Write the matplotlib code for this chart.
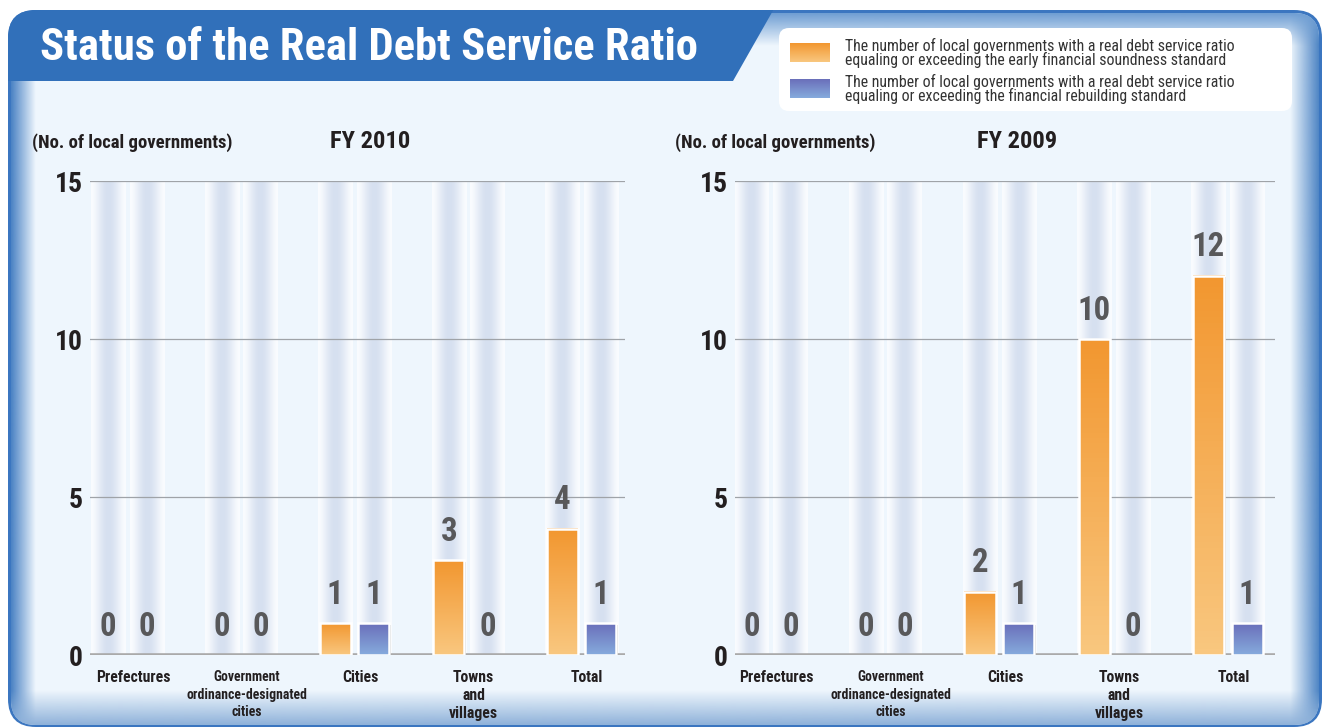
import numpy as np
import matplotlib
matplotlib.use('Agg')
import matplotlib.pyplot as plt
from matplotlib.patches import FancyBboxPatch, Polygon
import matplotlib.patheffects as pe
from matplotlib.colors import to_rgb
from matplotlib import font_manager as fm

# ---------------- data ----------------
title = "Status of the Real Debt Service Ratio"
categories = ["Prefectures", "Government\nordinance-designated\ncities", "Cities",
              "Towns\nand\nvillages", "Total"]
fy2010_early = [0, 0, 1, 3, 4]
fy2010_rebuild = [0, 0, 1, 0, 1]
fy2009_early = [0, 0, 2, 10, 12]
fy2009_rebuild = [0, 0, 1, 0, 1]
panel_titles = ["FY 2010", "FY 2009"]
y_label = "(No. of local governments)"
y_ticks = [0, 5, 10, 15]
legend_lines = [
    ["The number of local governments with a real debt service ratio",
     "equaling or exceeding the early financial soundness standard"],
    ["The number of local governments with a real debt service ratio",
     "equaling or exceeding the financial rebuilding standard"],
]

# ---------------- font choice ----------------
weights = {}
for f in fm.fontManager.ttflist:
    w = f.weight
    try:
        w = int(w)
    except (TypeError, ValueError):
        w = 700 if 'bold' in str(w).lower() else 400
    weights.setdefault(f.name, set()).add(w)
prefs = ['Roboto Condensed', 'Liberation Sans Narrow', 'Archivo Narrow', 'PT Sans Narrow',
         'Pragati Narrow', 'Fira Sans Condensed', 'IBM Plex Sans Condensed',
         'Encode Sans Condensed', 'Asap Condensed', 'Barlow Semi Condensed', 'Roboto']
FAM = 'DejaVu Sans'
for p in prefs:
    if p in weights and max(weights[p]) >= 700 and min(weights[p]) <= 400:
        FAM = p
        break
plt.rcParams['font.family'] = [FAM, 'DejaVu Sans']

DARK = '#231f20'
ORANGE_TOP, ORANGE_BOT = '#f29730', '#f9c77f'
BLUE_TOP, BLUE_BOT = '#6a6fba', '#86abdd'
PALE = '#eef6fd'
FRAME = '#3b76c0'

W, H = 1325, 728
fig = plt.figure(figsize=(W / 100, H / 100), dpi=100)
fig.patch.set_facecolor('white')
renderer = fig.canvas.get_renderer()


def fit_size(s, target_px, weight='bold', base=20.0):
    t = fig.text(0, 0, s, fontsize=base, fontweight=weight)
    w = t.get_window_extent(renderer).width
    t.remove()
    return base * target_px / w


def line_h(fs, weight='bold'):
    t = fig.text(0, 0, 'lp', fontsize=fs, fontweight=weight)
    h = t.get_window_extent(renderer).height
    t.remove()
    return h


S_TITLE = fit_size(title, 655)
S_LEG = fit_size(legend_lines[0][0], 390, weight='normal')
S_YLAB = fit_size(y_label, 201)
S_FY = fit_size("FY 2010", 80)
S_CAT = fit_size("Prefectures", 74)
S_CAT_LONG = fit_size("ordinance-designated", 120)
S_TICK = fit_size("15", 28)
S_VAL = fit_size("10", 33)
LS_CAT = 19.0 / line_h(S_CAT)
LS_CAT_LONG = 19.0 / line_h(S_CAT_LONG)

bg = fig.add_axes([0, 0, 1, 1])
bg.axis('off')


def grad_img(c0, c1, n=64, horizontal=False, a0=1.0, a1=1.0):
    c0, c1 = np.array(to_rgb(c0)), np.array(to_rgb(c1))
    t = np.linspace(0, 1, n)
    rgb = c0[None, :] * (1 - t[:, None]) + c1[None, :] * t[:, None]
    a = a0 * (1 - t) + a1 * t
    rgba = np.concatenate([rgb, a[:, None]], axis=1)
    if horizontal:
        return rgba[None, :, :]
    return rgba[:, None, :]


# frame
outer = FancyBboxPatch((8, 10), 1314, 717, boxstyle='round,pad=0,rounding_size=28',
                       fc=FRAME, ec='none', zorder=0)
bg.add_patch(outer)
inner = FancyBboxPatch((11, 13), 1308, 712, boxstyle='round,pad=0,rounding_size=25',
                       fc=PALE, ec='none', zorder=1)
bg.add_patch(inner)

for img, ext in [
    (grad_img('#4a82c4', '#4a82c4', horizontal=True, a0=1.0, a1=0.0), (11, 36, 725, 13)),
    (grad_img('#4f86c5', '#4f86c5', horizontal=True, a0=0.0, a1=1.0), (1290, 1319, 725, 13)),
    (grad_img('#6f9ed3', '#6f9ed3', a0=1.0, a1=0.0), (11, 1319, 46, 13)),
    (grad_img('#8fb2da', '#8fb2da', a0=0.0, a1=1.0), (11, 1319, 725, 690)),
]:
    im = bg.imshow(img, extent=ext, origin='upper', aspect='auto', zorder=2,
                   interpolation='bilinear')
    im.set_clip_path(inner)

# title band
band = Polygon([(0, 0), (779, 0), (733, 81), (0, 81)], closed=True,
               fc='#3170ba', ec='none', zorder=3)
bg.add_patch(band)
band.set_clip_path(outer)
bg.text(40, 48, title, color='white', fontsize=S_TITLE, fontweight='bold',
        va='center', ha='left', zorder=4)

# legend box
leg = FancyBboxPatch((779, 28), 513, 83, boxstyle='round,pad=0,rounding_size=10',
                     fc='white', ec='none', zorder=3)
bg.add_patch(leg)
sw = [(ORANGE_TOP, ORANGE_BOT, 43, 62), (BLUE_TOP, BLUE_BOT, 79, 98)]
text_y = [(46, 60), (82, 96)]
for (ct, cb, y0, y1), lines, (ly0, ly1) in zip(sw, legend_lines, text_y):
    bg.imshow(grad_img(ct, cb), extent=(790, 830, y1, y0), origin='upper',
              aspect='auto', zorder=4)
    bg.text(845, ly0, lines[0], fontsize=S_LEG, color='#333333', va='center', ha='left', zorder=5)
    bg.text(845, ly1, lines[1], fontsize=S_LEG, color='#333333', va='center', ha='left', zorder=5)

bg.set_xlim(0, W)
bg.set_ylim(H, 0)

# ---------------- charts ----------------
OFF, BW, SW = 0.17, 0.273, 0.30
Y0_PX, Y15_PX = 655, 181


def stripe_img(n=64):
    t = np.linspace(0, 1, n)
    s = np.sin(np.pi * t) ** 1.6
    edge = np.array(to_rgb('#fafcff'))
    mid = np.array(to_rgb('#d6e0f0'))
    rgb = edge[None, :] * (1 - s[:, None]) + mid[None, :] * s[:, None]
    return rgb[None, :, :]


def chart(left_px, right_px, pair0_px, spacing_px, early, rebuild, fy, ylab_x, fy_x):
    xl = (left_px - pair0_px) / spacing_px
    xr = (right_px - pair0_px) / spacing_px
    ax = fig.add_axes([left_px / W, (H - Y0_PX) / H, (right_px - left_px) / W,
                       (Y0_PX - Y15_PX) / H])
    ax.patch.set_alpha(0)
    for s in ax.spines.values():
        s.set_visible(False)
    x = np.arange(len(categories))
    for xi in x:
        for xc in (xi - OFF, xi + OFF):
            ax.imshow(stripe_img(), extent=(xc - SW / 2, xc + SW / 2, 0, 15),
                      aspect='auto', origin='lower', zorder=0.5, interpolation='bilinear')
    for t in y_ticks[1:]:
        ax.axhline(t, color='#9fa3a8', lw=0.9, zorder=1)
    ax.axhline(0, color='#aaaaaa', lw=2.6, zorder=1)
    for vals, xs, ct, cb in [(early, x - OFF, ORANGE_TOP, ORANGE_BOT),
                             (rebuild, x + OFF, BLUE_TOP, BLUE_BOT)]:
        for xc, v in zip(xs, vals):
            if v > 0:
                ax.bar(xc, v, BW, color=cb, edgecolor='none', zorder=2,
                       path_effects=[pe.SimplePatchShadow(offset=(1.2, -1.2),
                                                          shadow_rgbFace='#555555',
                                                          alpha=0.45),
                                     pe.Normal()])
                ax.imshow(grad_img(cb, ct), extent=(xc - BW / 2, xc + BW / 2, 0, v),
                          origin='lower', aspect='auto', zorder=3)
                ax.bar(xc, v, BW, fill=False, edgecolor='white', lw=1.8, zorder=4)
            ax.annotate(str(v), (xc, v), xytext=(0, 9), textcoords='offset points',
                        ha='center', va='bottom', fontsize=S_VAL, fontweight='bold',
                        color='#58585a', zorder=5)
    for xi, lab in zip(x, categories):
        long = len(lab) > 25
        fs = S_CAT_LONG if long else S_CAT
        ls = LS_CAT_LONG if long else LS_CAT
        ax.annotate(lab, (xi + 0.05, 0), xytext=(0, -10.5), textcoords='offset points',
                    ha='center', va='top', fontsize=fs, fontweight='bold',
                    color=DARK, linespacing=ls, annotation_clip=False)
    ax.set_xlim(xl, xr)
    ax.set_ylim(0, 15)
    ax.set_xticks([])
    ax.set_yticks(y_ticks)
    ax.set_yticklabels([str(t) for t in y_ticks], fontsize=S_TICK, fontweight='bold', color=DARK)
    ax.tick_params(axis='y', length=0, pad=5)
    bg.text(ylab_x, 143, y_label, fontsize=S_YLAB, fontweight='bold', color=DARK,
            ha='left', va='center')
    bg.text(fy_x, 141, fy, fontsize=S_FY, fontweight='bold', color=DARK,
            ha='center', va='center')
    return ax


chart(90, 625, 127.5, 113.5, fy2010_early, fy2010_rebuild, panel_titles[0], 32, 370)
chart(735, 1275, 771.0, 114.2, fy2009_early, fy2009_rebuild, panel_titles[1], 675, 1017)

fig.savefig('out.png', dpi=100, facecolor='white')
